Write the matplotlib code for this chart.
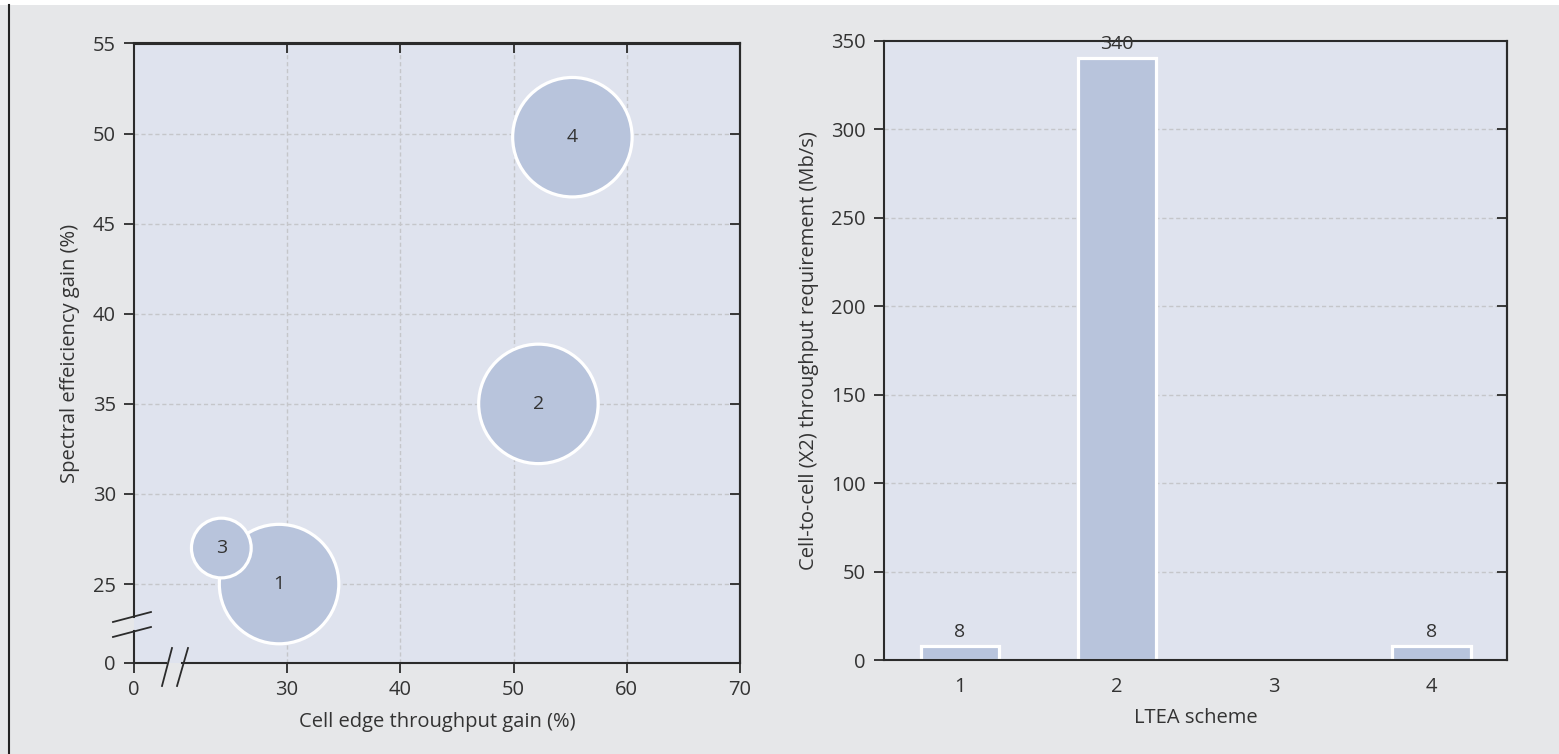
import matplotlib
matplotlib.use("Agg")
import matplotlib.pyplot as plt
from matplotlib.lines import Line2D
from matplotlib.patches import Rectangle

plt.rcParams['font.family'] = ['Open Sans', 'DejaVu Sans']
plt.rcParams['font.size'] = 14.5
plt.rcParams['text.color'] = '#333333'
plt.rcParams['axes.labelcolor'] = '#333333'
plt.rcParams['xtick.color'] = '#333333'
plt.rcParams['ytick.color'] = '#333333'

# dados - grafico de bolhas
esquemas = ['1', '2', '3', '4']
ganho_borda = [29.3, 52.2, 24.2, 55.2]       # Cell edge throughput gain (%)
ganho_espectral = [25, 35, 27, 49.8]          # Spectral efficiency gain (%)
tamanho_bolha = [4, 4, 1, 4]                  # tamanho relativo

# dados - grafico de barras
vazao_x2 = [8, 340, 0, 8]                     # Mb/s

# eixo quebrado: onde o "0" fica em cada eixo
x_zero = 16.49
y_zero = 20.62

fundo = '#e6e7e9'
fundo_eixo = '#dfe3ee'
azul = '#b8c4dc'
escuro = '#2b2b2b'
cor_grade = '#c5c6ca'

fig = plt.figure(figsize=(15.59, 7.54), dpi=100, facecolor=fundo)
fig.patches.append(Rectangle((0, 1 - 5 / 754), 1, 5 / 754, transform=fig.transFigure,
                             facecolor='white', edgecolor='none'))
fig.lines.append(Line2D([8.5 / 1559, 8.5 / 1559], [0, 1 - 5 / 754], transform=fig.transFigure,
                        color='#222222', lw=1.5))

# ---------------- grafico da esquerda ----------------
ax1 = fig.add_axes([134 / 1559, (754 - 663) / 754, 606 / 1559, 619.5 / 754])
ax1.set_facecolor(fundo_eixo)
ax1.set_xlim(x_zero, 70)
ax1.set_ylim(y_zero, 55)

xt = [x_zero, 30, 40, 50, 60, 70]
yt = [y_zero, 25, 30, 35, 40, 45, 50, 55]
ax1.set_xticks(xt)
ax1.set_xticklabels(['0', '30', '40', '50', '60', '70'])
ax1.set_yticks(yt)
ax1.set_yticklabels(['0', '25', '30', '35', '40', '45', '50', '55'])
ax1.tick_params(axis='both', direction='out', length=7, width=1.3, color=escuro)
ax1.tick_params(axis='y', pad=6)
ax1.tick_params(axis='x', pad=5)

for v in [30, 40, 50, 60]:
    ax1.axvline(v, color=cor_grade, lw=1, ls=(0, (3, 2)), zorder=0)
for v in [25, 30, 35, 40, 45, 50]:
    ax1.axhline(v, color=cor_grade, lw=1, ls=(0, (3, 2)), zorder=0)

s = [t * 1850 for t in tamanho_bolha]
ax1.scatter(ganho_borda, ganho_espectral, s=s, c=azul, edgecolors='white',
            linewidths=2.3, zorder=3, clip_on=False)
for x, y, n in zip(ganho_borda, ganho_espectral, esquemas):
    ax1.text(x, y, n, ha='center', va='center', fontsize=14, zorder=4)

# ticks internos em cima e na direita
topo = ax1.secondary_xaxis('top')
topo.set_xticks([30, 40, 50, 60])
topo.tick_params(direction='in', length=7, width=1.3, labeltop=False, color=escuro)
dir1 = ax1.secondary_yaxis('right')
dir1.set_yticks([25, 30, 35, 40, 45, 50])
dir1.tick_params(direction='in', length=7, width=1.3, labelright=False, color=escuro)
for sp in ['top', 'right']:
    ax1.spines[sp].set_color(escuro)
    ax1.spines[sp].set_linewidth(1.5)
for sec in (topo, dir1):
    for sp in sec.spines.values():
        sp.set_color(escuro)
        sp.set_linewidth(1.5)

# eixos com quebra
ax1.spines['left'].set_visible(False)
ax1.spines['bottom'].set_visible(False)
kw = dict(transform=ax1.transAxes, color=escuro, lw=1.5, clip_on=False, zorder=5)
ax1.plot([0, 0], [0, 0.0517], **kw)
ax1.plot([0, 0], [0.075, 1], **kw)
ax1.plot([0, 0.0528], [0, 0], **kw)
ax1.plot([0.0792, 1], [0, 0], **kw)
kw['lw'] = 1.3
ax1.plot([-0.0347, 0.028], [0.0662, 0.0823], **kw)
ax1.plot([-0.0347, 0.028], [0.0420, 0.0581], **kw)
ax1.plot([0.0462, 0.0627], [-0.0371, 0.0242], **kw)
ax1.plot([0.0710, 0.0891], [-0.0371, 0.0242], **kw)

ax1.set_xlabel('Cell edge throughput gain (%)', labelpad=9)
ax1.set_ylabel('Spectral effeiciency gain (%)', labelpad=9)

# ---------------- grafico da direita ----------------
ax2 = fig.add_axes([884 / 1559, (754 - 660) / 754, 623 / 1559, 619.3 / 754])
ax2.set_facecolor(fundo_eixo)
pos = list(range(1, len(esquemas) + 1))
larguras = [2.3 if v > 0 else 0 for v in vazao_x2]
ax2.bar(pos, vazao_x2, width=0.5, color=azul, edgecolor='white', linewidth=larguras, zorder=2)
for p, v in zip(pos, vazao_x2):
    if v > 0:
        ax2.text(p, v + 3, str(v), ha='center', va='bottom', fontsize=14)
ax2.set_xlim(0.517, 4.48)
ax2.set_ylim(0, 350)
ax2.set_xticks(pos)
ax2.set_xticklabels(esquemas)
ax2.set_yticks(range(0, 351, 50))
for v in range(50, 301, 50):
    ax2.axhline(v, color=cor_grade, lw=1, ls=(0, (3, 2)), zorder=0)
ax2.tick_params(axis='x', length=0, pad=12)
ax2.tick_params(axis='y', direction='out', length=7, width=1.3, pad=6, color=escuro)
dir2 = ax2.secondary_yaxis('right')
dir2.set_yticks(range(50, 301, 50))
dir2.tick_params(direction='in', length=7, width=1.3, labelright=False, color=escuro)
for sp in ax2.spines.values():
    sp.set_color(escuro)
    sp.set_linewidth(1.5)
for sp in dir2.spines.values():
    sp.set_color(escuro)
    sp.set_linewidth(1.5)
ax2.set_xlabel('LTEA scheme', labelpad=8)
ax2.set_ylabel('Cell-to-cell (X2) throughput requirement (Mb/s)', labelpad=9)

fig.savefig('out.png', dpi=100, facecolor=fundo)
